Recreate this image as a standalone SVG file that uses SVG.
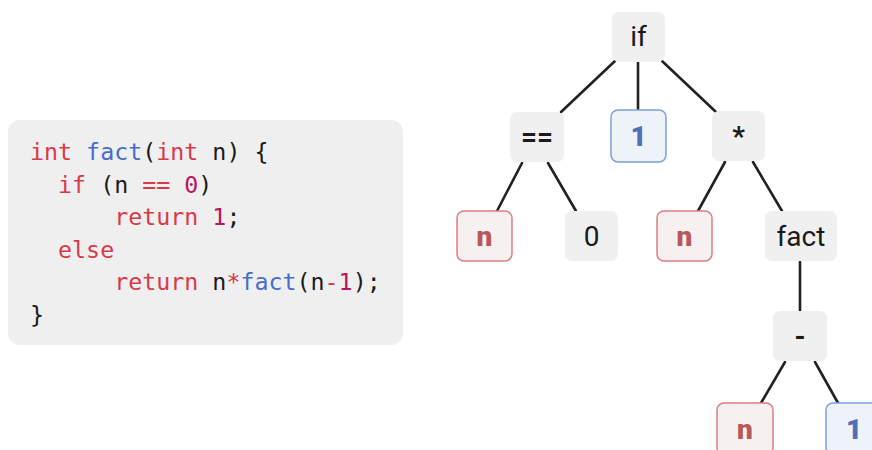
<svg xmlns="http://www.w3.org/2000/svg" width="872" height="450" viewBox="0 0 872 450">
  <style>
    .code { font-family: "DejaVu Sans Mono", "Liberation Mono", monospace; font-size: 23.3px; fill: #1a1a1a; white-space: pre; }
    .kw { fill: #d83a4a; }
    .fn { fill: #4a6cc9; }
    .num { fill: #b8155e; }
    .node rect { fill: #f0f0f0; stroke: none; }
    .node.var rect { fill: #f6f0f0; stroke: #db7f7f; stroke-width: 1.5; }
    .node.lit rect { fill: #eef2f9; stroke: #7f9fe0; stroke-width: 1.5; }
    .lbl { font-family: Roboto, "Liberation Sans", sans-serif; font-size: 28px; fill: #1a1a1a; text-anchor: middle; dominant-baseline: central; }
    .node.var .lbl { fill: #b95858; font-weight: 900; }
    .node.lit .lbl { fill: #4f6fb8; font-weight: 900; }
    .op { font-weight: 700; }
    .edges line { stroke: #222; stroke-width: 2.6; stroke-linecap: round; }
  </style>

  <!-- source listing -->
  <g id="code">
    <rect x="8" y="120" width="395" height="225" rx="12" fill="#efefef"/>
    <text class="code" x="30" y="160"><tspan class="kw">int</tspan> <tspan class="fn">fact</tspan>(<tspan class="kw">int</tspan> n) {</text>
    <text class="code" x="30" y="192.6">  <tspan class="kw">if</tspan> (n <tspan class="kw">==</tspan> <tspan class="num">0</tspan>)</text>
    <text class="code" x="30" y="225.2">      <tspan class="kw">return</tspan> <tspan class="num">1</tspan>;</text>
    <text class="code" x="30" y="257.8">  <tspan class="kw">else</tspan></text>
    <text class="code" x="30" y="290.4">      <tspan class="kw">return</tspan> n<tspan class="kw">*</tspan><tspan class="fn">fact</tspan>(n<tspan class="kw">-</tspan><tspan class="num">1</tspan>);</text>
    <text class="code" x="30" y="323">}</text>
  </g>

  <!-- tree edges -->
  <g id="edges" class="edges">
    <line x1="615" y1="61" x2="561" y2="112"/>
    <line x1="638" y1="62" x2="638" y2="110"/>
    <line x1="662" y1="61" x2="716" y2="112"/>
    <line x1="522" y1="163" x2="497" y2="211"/>
    <line x1="548" y1="163" x2="576" y2="211"/>
    <line x1="725" y1="162" x2="698" y2="211"/>
    <line x1="753" y1="162" x2="782" y2="211"/>
    <line x1="800" y1="262" x2="800" y2="311"/>
    <line x1="785" y1="362" x2="761" y2="403"/>
    <line x1="815" y1="362" x2="838" y2="403"/>
  </g>

  <!-- tree nodes -->
  <g id="n-if" class="node"><rect x="612" y="12" width="53" height="50" rx="7"/><text class="lbl" x="638.5" y="36">if</text></g>
  <g id="n-eq" class="node"><rect x="510" y="112" width="54" height="50" rx="7"/><text class="lbl op" x="537" y="136">==</text></g>
  <g id="n-one" class="node lit"><rect x="611" y="110" width="55" height="52" rx="7"/><text class="lbl" x="638.5" y="136">1</text></g>
  <g id="n-mul" class="node"><rect x="712" y="111" width="53" height="50" rx="7"/><text class="lbl op" x="738.5" y="136">*</text></g>
  <g id="n-n1" class="node var"><rect x="457" y="211" width="55" height="50" rx="7"/><text class="lbl" x="484.5" y="236">n</text></g>
  <g id="n-zero" class="node"><rect x="565" y="211" width="53" height="50" rx="7"/><text class="lbl" x="591.5" y="236">0</text></g>
  <g id="n-n2" class="node var"><rect x="657" y="211" width="55" height="50" rx="7"/><text class="lbl" x="684.5" y="236">n</text></g>
  <g id="n-fact" class="node"><rect x="765" y="211" width="72" height="50" rx="7"/><text class="lbl" x="801" y="236">fact</text></g>
  <g id="n-sub" class="node"><rect x="773" y="311" width="54" height="50" rx="7"/><text class="lbl op" x="800" y="336">-</text></g>
  <g id="n-n3" class="node var"><rect x="717" y="403" width="56" height="52" rx="7"/><text class="lbl" x="745" y="429">n</text></g>
  <g id="n-one2" class="node lit"><rect x="826" y="403" width="56" height="52" rx="7"/><text class="lbl" x="854" y="429">1</text></g>
</svg>
